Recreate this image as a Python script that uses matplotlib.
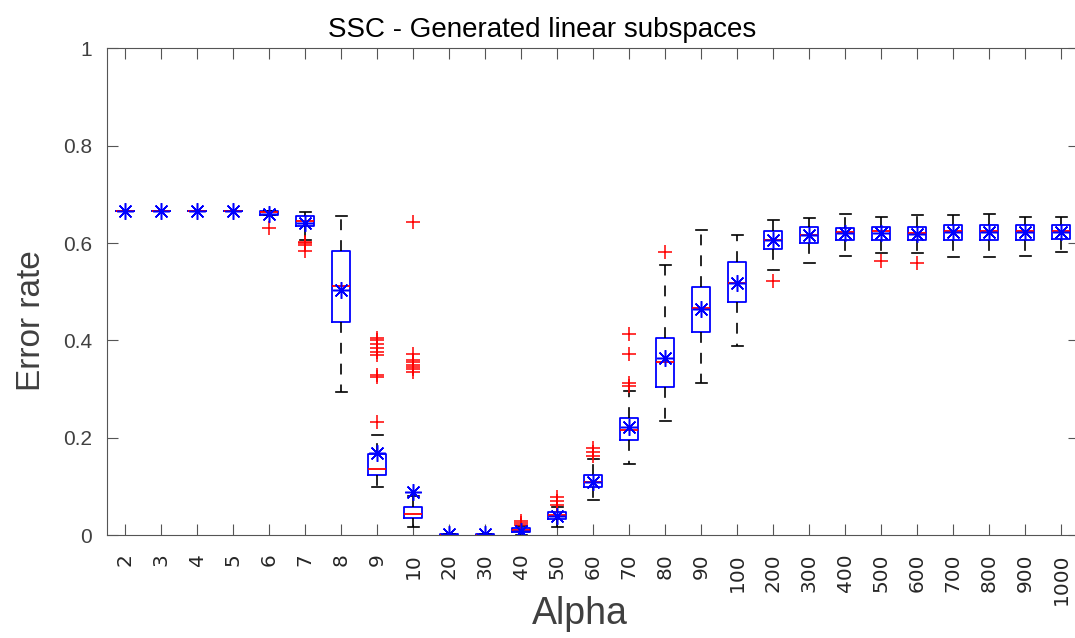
import matplotlib
matplotlib.use("Agg")
import matplotlib.pyplot as plt

# --- data ---
alphas = ['2', '3', '4', '5', '6', '7', '8', '9', '10',
          '20', '30', '40', '50', '60', '70', '80', '90', '100',
          '200', '300', '400', '500', '600', '700', '800', '900', '1000']

q1 = [0.665, 0.665, 0.665, 0.665, 0.658, 0.636, 0.438, 0.123, 0.034,
      0.000, 0.000, 0.006, 0.033, 0.098, 0.195, 0.304, 0.418, 0.479,
      0.587, 0.600, 0.607, 0.607, 0.606, 0.606, 0.607, 0.606, 0.608]
med = [0.665, 0.665, 0.665, 0.665, 0.663, 0.646, 0.512, 0.136, 0.043,
       0.001, 0.001, 0.010, 0.041, 0.110, 0.215, 0.355, 0.467, 0.519,
       0.607, 0.617, 0.622, 0.624, 0.621, 0.624, 0.625, 0.624, 0.624]
q3 = [0.665, 0.665, 0.665, 0.665, 0.666, 0.655, 0.584, 0.166, 0.057,
      0.002, 0.002, 0.014, 0.047, 0.123, 0.241, 0.404, 0.510, 0.562,
      0.625, 0.633, 0.632, 0.634, 0.634, 0.637, 0.638, 0.638, 0.638]
means = [0.665, 0.665, 0.665, 0.665, 0.660, 0.641, 0.503, 0.168, 0.089,
         0.003, 0.003, 0.009, 0.040, 0.110, 0.222, 0.364, 0.464, 0.518,
         0.607, 0.616, 0.621, 0.621, 0.619, 0.622, 0.622, 0.622, 0.622]
whislo = [0.665, 0.665, 0.665, 0.665, 0.657, 0.606, 0.293, 0.099, 0.017,
          0.000, 0.000, 0.000, 0.017, 0.071, 0.145, 0.235, 0.312, 0.389,
          0.544, 0.560, 0.574, 0.580, 0.580, 0.572, 0.572, 0.574, 0.581]
whishi = [0.665, 0.665, 0.665, 0.665, 0.667, 0.663, 0.655, 0.206, 0.080,
          0.003, 0.003, 0.018, 0.058, 0.156, 0.297, 0.554, 0.626, 0.617,
          0.648, 0.652, 0.660, 0.654, 0.658, 0.657, 0.660, 0.654, 0.654]
outliers = [[], [], [], [], [0.631],
            [0.602, 0.600, 0.597, 0.583],
            [],
            [0.405, 0.400, 0.393, 0.385, 0.377, 0.370, 0.328, 0.325, 0.233],
            [0.643, 0.372, 0.360, 0.355, 0.350, 0.346, 0.342, 0.336],
            [], [],
            [0.029, 0.024, 0.021],
            [0.078, 0.070, 0.062],
            [0.178, 0.171, 0.163],
            [0.413, 0.372, 0.313, 0.307],
            [0.581],
            [], [],
            [0.523],
            [], [],
            [0.564],
            [0.559],
            [], [], [], []]

stats = []
for i, a in enumerate(alphas):
    stats.append(dict(label=a, q1=q1[i], med=med[i], q3=q3[i], mean=means[i],
                      whislo=whislo[i], whishi=whishi[i], fliers=outliers[i]))

fig = plt.figure(figsize=(10.75, 6.38), dpi=100)
ax = fig.add_axes([0.0998, 0.1614, 0.9042, 0.7626])

ax.bxp(stats, positions=range(1, len(alphas) + 1), widths=0.5, capwidths=0.3,
       showmeans=True, showfliers=True,
       boxprops=dict(color='#0000ff', linewidth=1.3),
       medianprops=dict(color='#ff0000', linewidth=1.3),
       whiskerprops=dict(color='black', linewidth=1.2, linestyle=(0, (6.5, 6))),
       capprops=dict(color='black', linewidth=1.2),
       flierprops=dict(marker='+', markeredgecolor='#ff0000', markersize=10.5,
                       markeredgewidth=1.1, linestyle='none'),
       meanprops=dict(marker=(8, 2, 0), markeredgecolor='#0000ff',
                      markerfacecolor='#0000ff', markersize=12,
                      markeredgewidth=1.1, linestyle='none'))

ax.set_xlim(0.5, len(alphas) + 0.5)
ax.set_ylim(0, 1)
ax.set_yticks([0, 0.2, 0.4, 0.6, 0.8, 1])
ax.set_yticklabels(['0', '0.2', '0.4', '0.6', '0.8', '1'],
                   family='Liberation Sans', fontsize=15, color='#404040')
ax.set_xticklabels(alphas, rotation=90, family='DejaVu Sans', fontsize=14.5,
                   color='#262626')

ax.tick_params(axis='both', direction='in', top=True, right=True,
               length=8, width=0.8, color='#555555')
ax.tick_params(axis='y', pad=11)
ax.tick_params(axis='x', pad=13)
for s in ax.spines.values():
    s.set_color('#555555')
    s.set_linewidth(0.8)

ax.set_title('SSC - Generated linear subspaces', family='Liberation Sans',
             fontsize=20, color='black', pad=8, x=0.447)
ax.set_xlabel('Alpha', family='Liberation Sans', fontsize=27, color='#404040',
              va='top')
ax.xaxis.set_label_coords(0.4863, -0.125)
ax.set_ylabel('Error rate', family='Liberation Sans', fontsize=24,
              color='#404040')
ax.yaxis.set_label_coords(-0.062, 0.44)

fig.savefig('out.png', dpi=100)
